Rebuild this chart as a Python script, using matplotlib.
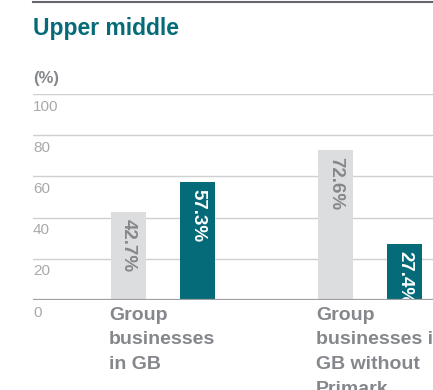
import matplotlib.pyplot as plt
from matplotlib.lines import Line2D

plt.rcParams['font.family'] = ['Liberation Sans', 'DejaVu Sans']

# Quartile split per group
categories = ["Group\nbusinesses\nin GB", "Group\nbusinesses in\nGB without\nPrimark"]
grey_values = [42.7, 72.6]
teal_values = [57.3, 27.4]
y_ticks = [0, 20, 40, 60, 80, 100]

TEAL = '#056b78'
LIGHT_GREY = '#dcdddf'
TEXT_GREY = '#84878b'
TICK_GREY = '#a7a9ac'
GRID_GREY = '#cfd0d2'

fig = plt.figure(figsize=(4.33, 3.9), dpi=100)
ax = fig.add_axes([33 / 433, 90 / 390, 400 / 433, 206 / 390])

bar_w = 0.169
offset = 0.1667
xs = list(range(len(categories)))

ax.bar([x - offset for x in xs], grey_values, width=bar_w, color=LIGHT_GREY, zorder=2)
ax.bar([x + offset for x in xs], teal_values, width=bar_w, color=TEAL, zorder=2)

# value labels, rotated, just inside the top of each bar
for x, v in zip(xs, grey_values):
    ax.annotate(f"{v}%", xy=(x - offset, v), xytext=(0, -5), textcoords='offset points',
                rotation=270, ha='center', va='top', fontsize=13.5, fontweight='bold',
                color=TEXT_GREY, zorder=3)
for x, v in zip(xs, teal_values):
    ax.annotate(f"{v}%", xy=(x + offset, v), xytext=(0, -5), textcoords='offset points',
                rotation=270, ha='center', va='top', fontsize=13.5, fontweight='bold',
                color='white', zorder=3)

ax.set_xlim(-0.628, -0.628 + 400 / 207)
ax.set_ylim(0, 100)

# gridlines with labels sitting under each line
for t in y_ticks:
    if t == 0:
        ax.axhline(t, color='#9d9fa2', lw=1.6, zorder=4)
    else:
        ax.axhline(t, color=GRID_GREY, lw=1.0, zorder=1)
    ax.annotate(str(t), xy=(0, t), xycoords=('axes fraction', 'data'),
                xytext=(0, -4), textcoords='offset points',
                ha='left', va='top', fontsize=11, color=TICK_GREY, clip_on=False)

# category labels under the baseline
for x, label in zip(xs, categories):
    ax.annotate(label, xy=(x - 0.26, 0), xytext=(0, -5), textcoords='offset points',
                ha='left', va='top', fontsize=14, fontweight='bold', color=TEXT_GREY,
                linespacing=1.58, annotation_clip=False)

ax.axis('off')

# header rule, title and unit
fig.add_artist(Line2D([33 / 433, 1], [1 - 2 / 390, 1 - 2 / 390], color='#63666b', lw=1.5))
fig.text(33 / 433, 1 - 29 / 390, "Upper middle", fontsize=16.5, fontweight='bold',
         color=TEAL, ha='left', va='center')
fig.text(33 / 433, 1 - 79 / 390, "(%)", fontsize=12, fontweight='bold',
         color=TEXT_GREY, ha='left', va='center')

fig.savefig('out.png', dpi=100)
